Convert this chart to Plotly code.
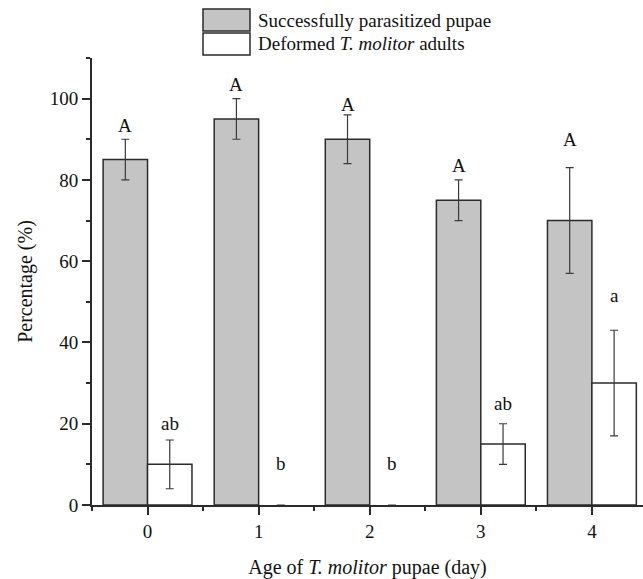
import plotly.graph_objects as go

# ---- data ----
ages = [0, 1, 2, 3, 4]
age_labels = ["0", "1", "2", "3", "4"]
series_names = ["Successfully parasitized pupae", "Deformed <i>T. molitor</i> adults"]
parasitized = [85, 95, 90, 75, 70]
parasitized_err = [5, 5, 6, 5, 13]
deformed = [10, 0, 0, 15, 30]
deformed_err = [6, 0, 0, 5, 13]
parasitized_letters = ["A", "A", "A", "A", "A"]
parasitized_letter_y = [93.5, 103.5, 98.5, 83.5, 90]
deformed_letters = ["ab", "b", "b", "ab", "a"]
deformed_letter_y = [20, 10.3, 10.3, 25, 51.5]

W, H = 643, 579
ML, MR, MT, MB = 92, 0, 58, 74
FONT = "Liberation Serif"
EDGE = "#2b2b2b"

fig = go.Figure()
fig.add_trace(go.Bar(
    x=ages, y=parasitized, width=0.4, offset=-0.4,
    marker=dict(color="#c4c4c4", line=dict(color=EDGE, width=1.5)),
    error_y=dict(type="data", array=parasitized_err, color="#3a3a3a", thickness=1.2, width=4),
    showlegend=False,
))
fig.add_trace(go.Bar(
    x=ages, y=deformed, width=0.4, offset=0,
    marker=dict(color="#ffffff",
                line=dict(color=EDGE, width=[1.5 if v > 0 else 0 for v in deformed])),
    error_y=dict(type="data",
                 array=[e if v > 0 else None for v, e in zip(deformed, deformed_err)],
                 color="#3a3a3a", thickness=1.2, width=4),
    showlegend=False,
))

annotations = []
for a, t, yy in zip(ages, parasitized_letters, parasitized_letter_y):
    annotations.append(dict(x=a - 0.2, y=yy, xref="x", yref="y", text=t, showarrow=False,
                            font=dict(family=FONT, size=19, color="#111")))
for a, t, yy in zip(ages, deformed_letters, deformed_letter_y):
    annotations.append(dict(x=a + 0.2, y=yy, xref="x", yref="y", text=t, showarrow=False,
                            font=dict(family=FONT, size=19, color="#111")))

# manual legend (pixel -> paper conversion)
pw = W - ML - MR
ph = H - MT - MB
def px(xp):
    return (xp - ML) / pw
def py(yp):
    return (H - MB - yp) / ph

shapes = []
legend_fills = ["#c4c4c4", "#ffffff"]
legend_tops = [9, 33]
for name, fill, top in zip(series_names, legend_fills, legend_tops):
    shapes.append(dict(type="rect", xref="paper", yref="paper",
                       x0=px(203), x1=px(250), y0=py(top), y1=py(top + 22),
                       fillcolor=fill, line=dict(color=EDGE, width=1.5)))
    annotations.append(dict(x=px(256), y=py(top + 11), xref="paper", yref="paper",
                            xanchor="left", yanchor="middle", text=name, showarrow=False,
                            font=dict(family=FONT, size=19, color="#111")))

fig.update_layout(
    width=W, height=H,
    margin=dict(l=ML, r=MR, t=MT, b=MB),
    plot_bgcolor="white", paper_bgcolor="white",
    barmode="overlay",
    font=dict(family=FONT, size=19, color="#111"),
    annotations=annotations, shapes=shapes,
    xaxis=dict(
        range=[-0.5, 4.46], tickvals=ages, ticktext=age_labels,
        showline=True, linecolor=EDGE, linewidth=2,
        ticks="outside", ticklen=8, tickwidth=1.5, tickcolor=EDGE,
        minor=dict(ticks="outside", ticklen=4, tickwidth=1.5, tickcolor=EDGE, tick0=0.5, dtick=1),
        showgrid=False, zeroline=False,
        title=dict(text="Age of <i>T. molitor</i> pupae (day)", font=dict(family=FONT, size=20), standoff=20),
    ),
    yaxis=dict(
        range=[0, 110], tickvals=[0, 20, 40, 60, 80, 100],
        showline=True, linecolor=EDGE, linewidth=2,
        ticks="outside", ticklen=8, tickwidth=1.5, tickcolor=EDGE,
        minor=dict(ticks="outside", ticklen=4, tickwidth=1.5, tickcolor=EDGE, dtick=10),
        showgrid=False, zeroline=False,
        title=dict(text="Percentage (%)", font=dict(family=FONT, size=20), standoff=12),
    ),
)

fig.write_html("out.html", config={"displayModeBar": False},
               post_script="document.body.style.margin='0';")
